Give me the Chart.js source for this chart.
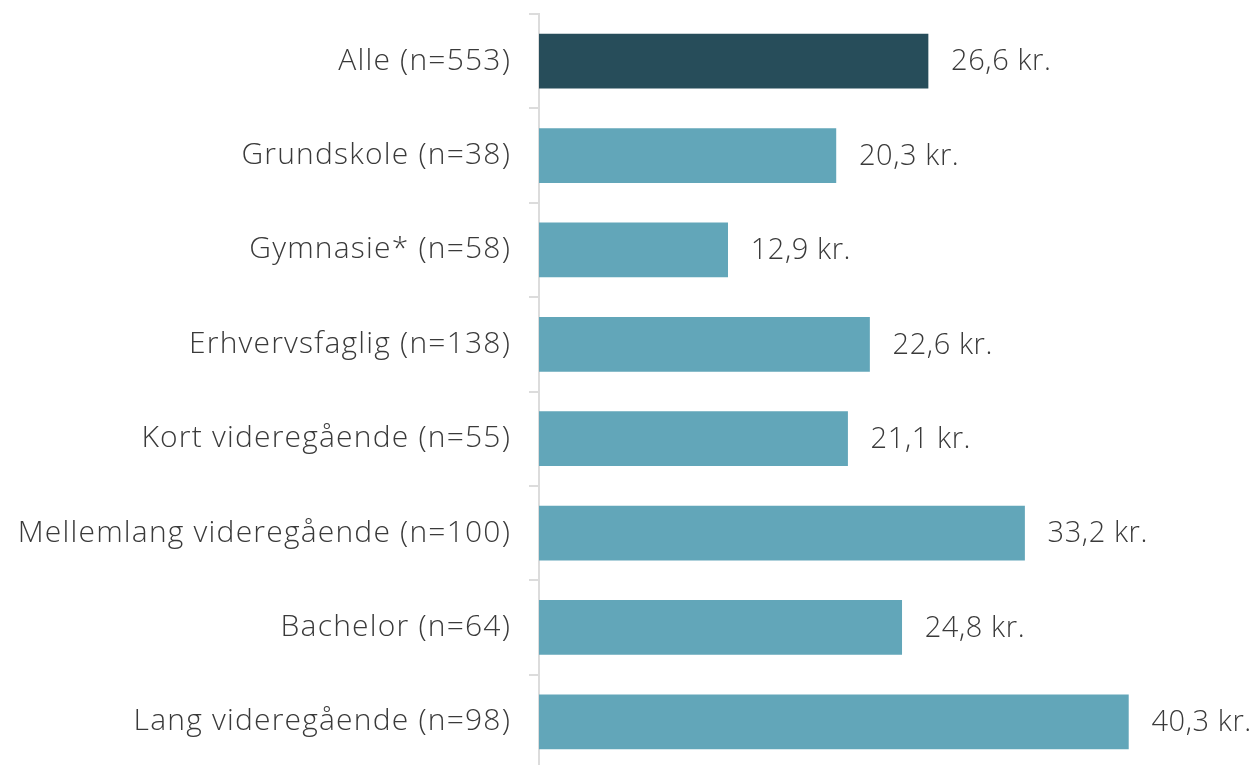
<!DOCTYPE html>
<html lang="da">
<head>
<meta charset="UTF-8">
<title>Uddannelse</title>
<script src="https://cdn.jsdelivr.net/npm/chart.js"></script>
<style>
    html, body { margin: 0; padding: 0; background: #ffffff; overflow: hidden; }
    canvas { display: block; }
</style>
</head>
<body>
<canvas id="chart" width="1258" height="770"></canvas>
<script>
    // Data
    const categories = [
        'Alle (n=553)',
        'Grundskole (n=38)',
        'Gymnasie* (n=58)',
        'Erhvervsfaglig (n=138)',
        'Kort videregående (n=55)',
        'Mellemlang videregående (n=100)',
        'Bachelor (n=64)',
        'Lang videregående (n=98)'
    ];
    const values = [26.6, 20.3, 12.9, 22.6, 21.1, 33.2, 24.8, 40.3];
    const barColors = ['#274d5a', '#62a6b9', '#62a6b9', '#62a6b9', '#62a6b9', '#62a6b9', '#62a6b9', '#62a6b9'];

    const fontFamily = '"Open Sans", "DejaVu Sans", sans-serif';
    const textColor = '#3a3a3a';

    // lidt bredere bogstaver, tættere på originalens skrift
    const spacing = {
        id: 'spacing',
        beforeDraw(chart) { chart.ctx.letterSpacing = '1.2px'; }
    };

    // Værdi-etiketter til højre for søjlerne
    const valueLabels = {
        id: 'valueLabels',
        afterDatasetsDraw(chart) {
            const ctx = chart.ctx;
            const meta = chart.getDatasetMeta(0);
            ctx.save();
            ctx.letterSpacing = '0.6px';
            ctx.font = '300 29px ' + fontFamily;
            ctx.fillStyle = textColor;
            ctx.textAlign = 'left';
            ctx.textBaseline = 'middle';
            meta.data.forEach((bar, i) => {
                const txt = values[i].toFixed(1).replace('.', ',') + ' kr.';
                ctx.fillText(txt, bar.x + 23, bar.y + 1);
            });
            ctx.restore();
        }
    };

    new Chart(document.getElementById('chart'), {
        type: 'bar',
        data: {
            labels: categories,
            datasets: [{
                data: values,
                backgroundColor: barColors,
                barThickness: 54
            }]
        },
        options: {
            indexAxis: 'y',
            responsive: false,
            animation: false,
            layout: { padding: { top: 14, bottom: 1, left: 0, right: 17 } },
            plugins: {
                legend: { display: false },
                tooltip: { enabled: false }
            },
            scales: {
                x: {
                    display: false,
                    min: 0,
                    max: 48
                },
                y: {
                    afterFit(scale) {
                        scale.width = 539;
                        scale.paddingTop = 0;
                        scale.paddingBottom = 0;
                    },
                    border: { display: true, color: '#dcdcdc', width: 2 },
                    grid: {
                        offset: true,
                        drawOnChartArea: false,
                        drawTicks: true,
                        tickLength: 10,
                        color: '#dcdcdc',
                        lineWidth: 2
                    },
                    ticks: {
                        padding: 18,
                        color: textColor,
                        font: { family: fontFamily, size: 30, weight: 300 }
                    }
                }
            }
        },
        plugins: [spacing, valueLabels]
    });
</script>
</body>
</html>
